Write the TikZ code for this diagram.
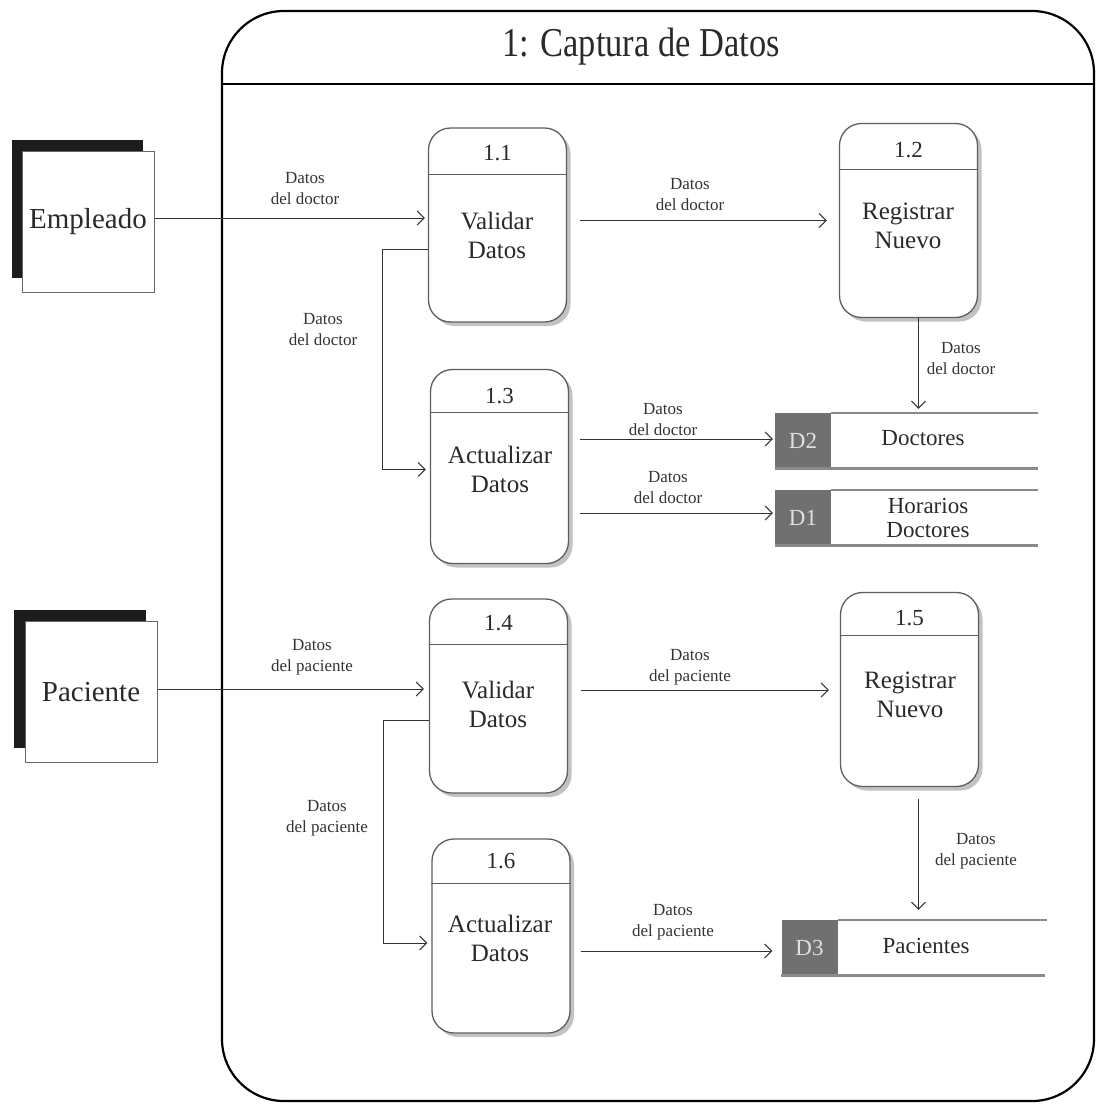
\documentclass[tikz,border=0pt]{standalone}
\usepackage{fontspec}
\setmainfont{Liberation Serif}
\newfontfamily\serif{Liberation Serif}
\newfontfamily\condfont[FakeStretch=0.84]{Liberation Serif}
\usetikzlibrary{arrows.meta,shadows,calc}
\definecolor{boxgray}{HTML}{5E5E5E}
\definecolor{storegray}{HTML}{707070}
\definecolor{storeline}{HTML}{8A8A8A}
\definecolor{entshadow}{HTML}{1C1C1C}
\definecolor{txtgray}{HTML}{2A2A2A}
\begin{document}
\begin{tikzpicture}[x=1pt,y=-1pt,
  frame/.style={draw=black, line width=2.2pt},
  proc/.style={draw=boxgray, line width=1.3pt, rounded corners=22pt,
    minimum width=138pt, minimum height=194pt, fill=white, inner sep=0pt,
    drop shadow={shadow xshift=4pt, shadow yshift=-4pt, fill=black!40, opacity=0.6}},
  procline/.style={draw=boxgray, line width=1.1pt},
  num/.style={font=\serif\fontsize{23}{26}\selectfont, text=txtgray, inner sep=0pt},
  ptext/.style={font=\serif\fontsize{25}{29}\selectfont, text=txtgray, align=center, inner sep=0pt},
  entity/.style={draw=black!60, line width=1pt, fill=white, minimum width=132pt,
    minimum height=141pt, inner sep=0pt, font=\serif\fontsize{29}{32}\selectfont, text=txtgray},
  storeid/.style={fill=storegray, minimum width=56pt, minimum height=55pt, inner sep=0pt,
    font=\serif\fontsize{23}{26}\selectfont, text=black!12},
  storetop/.style={draw=storeline, line width=1.5pt},
  storebot/.style={draw=storeline, line width=3pt},
  storetext/.style={font=\serif\fontsize{23}{24}\selectfont, text=txtgray, align=center, inner sep=0pt},
  lbl/.style={font=\serif\fontsize{17}{21}\selectfont, text=black!80, align=center, inner sep=0pt},
  arr/.style={draw=black!80, line width=1pt,
    -{Straight Barb[length=7pt,width=14pt,line width=1pt]}}
]
\useasboundingbox (0,0) rectangle (1097,1104);

% outer process frame
\draw[frame, rounded corners=62pt] (222,11) rectangle (1094,1101);
\draw[frame] (222,84) -- (1094,84);
\node[inner sep=0pt, font=\condfont\fontsize{41}{44}\selectfont, text=txtgray] (title) at (641,47) {1: Captura de Datos};

% external entities
\fill[entshadow] (12,140) rectangle (143,278);
\node[entity] (emp) at (88,221.5) {Empleado};
\fill[entshadow] (14,610) rectangle (146,748);
\node[entity] (pac) at (91,692) {Paciente};

% processes
\node[proc] (p11) at (497.5,225) {};
\draw[procline] ($(p11.north west)+(0,47)$) -- ($(p11.north east)+(0,47)$);
\node[num] (n11) at ($(p11.north)+(0,26)$) {1.1};
\node[ptext] (t11) at (497,235) {Validar\\Datos};

\node[proc] (p12) at (908.5,220.5) {};
\draw[procline] ($(p12.north west)+(0,47)$) -- ($(p12.north east)+(0,47)$);
\node[num] (n12) at ($(p12.north)+(0,27)$) {1.2};
\node[ptext] (t12) at (908,226) {Registrar\\Nuevo};

\node[proc] (p13) at (499.5,466.5) {};
\draw[procline] ($(p13.north west)+(0,44)$) -- ($(p13.north east)+(0,44)$);
\node[num] (n13) at ($(p13.north)+(0,27)$) {1.3};
\node[ptext] (t13) at (500,469) {Actualizar\\Datos};

\node[proc] (p14) at (498.5,696) {};
\draw[procline] ($(p14.north west)+(0,46)$) -- ($(p14.north east)+(0,46)$);
\node[num] (n14) at ($(p14.north)+(0,25)$) {1.4};
\node[ptext] (t14) at (498,704) {Validar\\Datos};

\node[proc] (p15) at (909.5,689.5) {};
\draw[procline] ($(p15.north west)+(0,44)$) -- ($(p15.north east)+(0,44)$);
\node[num] (n15) at ($(p15.north)+(0,26)$) {1.5};
\node[ptext] (t15) at (910,695) {Registrar\\Nuevo};

\node[proc] (p16) at (501,936) {};
\draw[procline] ($(p16.north west)+(0,45)$) -- ($(p16.north east)+(0,45)$);
\node[num] (n16) at ($(p16.north)+(0,23)$) {1.6};
\node[ptext] (t16) at (500,938) {Actualizar\\Datos};

% data stores
\node[storeid] (d2) at (803,440.5) {D2};
\draw[storetop] (d2.north east) -- ++(207,0);
\draw[storebot] (d2.south west) -- ++(263,0);
\node[storetext] (d2t) at (923,438) {Doctores};

\node[storeid] (d1) at (803,517.5) {D1};
\draw[storetop] (d1.north east) -- ++(207,0);
\draw[storebot] (d1.south west) -- ++(263,0);
\node[storetext] (d1t) at (928,518) {Horarios\\Doctores};

\node[storeid] (d3) at (809.5,947.5) {D3};
\draw[storetop] (d3.north east) -- ++(209,0);
\draw[storebot] (d3.south west) -- ++(264,0);
\node[storetext] (d3t) at (926,946) {Pacientes};

% flow anchor points
\coordinate (s12) at ($(p12.south)+(10,0)$);
\coordinate (s15) at ($(p15.south)+(9,0)$);

% flows
\draw[arr, shorten >=3pt] (emp.east |- 0,218) -- (p11.west |- 0,218);
\node[lbl] (l1) at (305,189) {Datos\\del doctor};

\draw[arr, shorten <=13pt, shorten >=12pt] (p11.east |- p12.west) -- (p12.west);
\node[lbl] (l2) at (690,195) {Datos\\del doctor};

\draw[arr, shorten >=4pt] ($(p11.west)+(0,24)$) -- ++(-45,0) |- ($(p13.west)+(0,3)$);
\node[lbl] (l3) at (323,330) {Datos\\del doctor};

\draw[arr, shorten >=4pt] (s12) -- (s12 |- d2.north);
\node[lbl] (l4) at (961,359) {Datos\\del doctor};

\draw[arr, shorten <=11pt, shorten >=2pt] (p13.east |- 0,439) -- (d2.west |- 0,439);
\node[lbl] (l5) at (663,420) {Datos\\del doctor};

\draw[arr, shorten <=11pt, shorten >=2pt] (p13.east |- 0,513) -- (d1.west |- 0,513);
\node[lbl] (l6) at (668,488) {Datos\\del doctor};

\draw[arr, shorten >=5pt] (pac.east |- 0,689) -- (p14.west |- 0,689);
\node[lbl] (l7) at (312,657) {Datos\\del paciente};

\draw[arr, shorten <=13pt, shorten >=11pt] (p14.east |- 0,690) -- (p15.west |- 0,690);
\node[lbl] (l8) at (690,667) {Datos\\del paciente};

\draw[arr, shorten >=4pt] ($(p14.west)+(0,24)$) -- ++(-45,0) |- ($(p16.west)+(0,7)$);
\node[lbl] (l9) at (327,818) {Datos\\del paciente};

\draw[arr, shorten <=12pt, shorten >=10pt] (s15) -- (s15 |- d3.north);
\node[lbl] (l10) at (976,851) {Datos\\del paciente};

\draw[arr, shorten <=10pt, shorten >=9pt] (p16.east |- 0,951) -- (d3.west |- 0,951);
\node[lbl] (l11) at (673,922) {Datos\\del paciente};
\end{tikzpicture}
\end{document}
